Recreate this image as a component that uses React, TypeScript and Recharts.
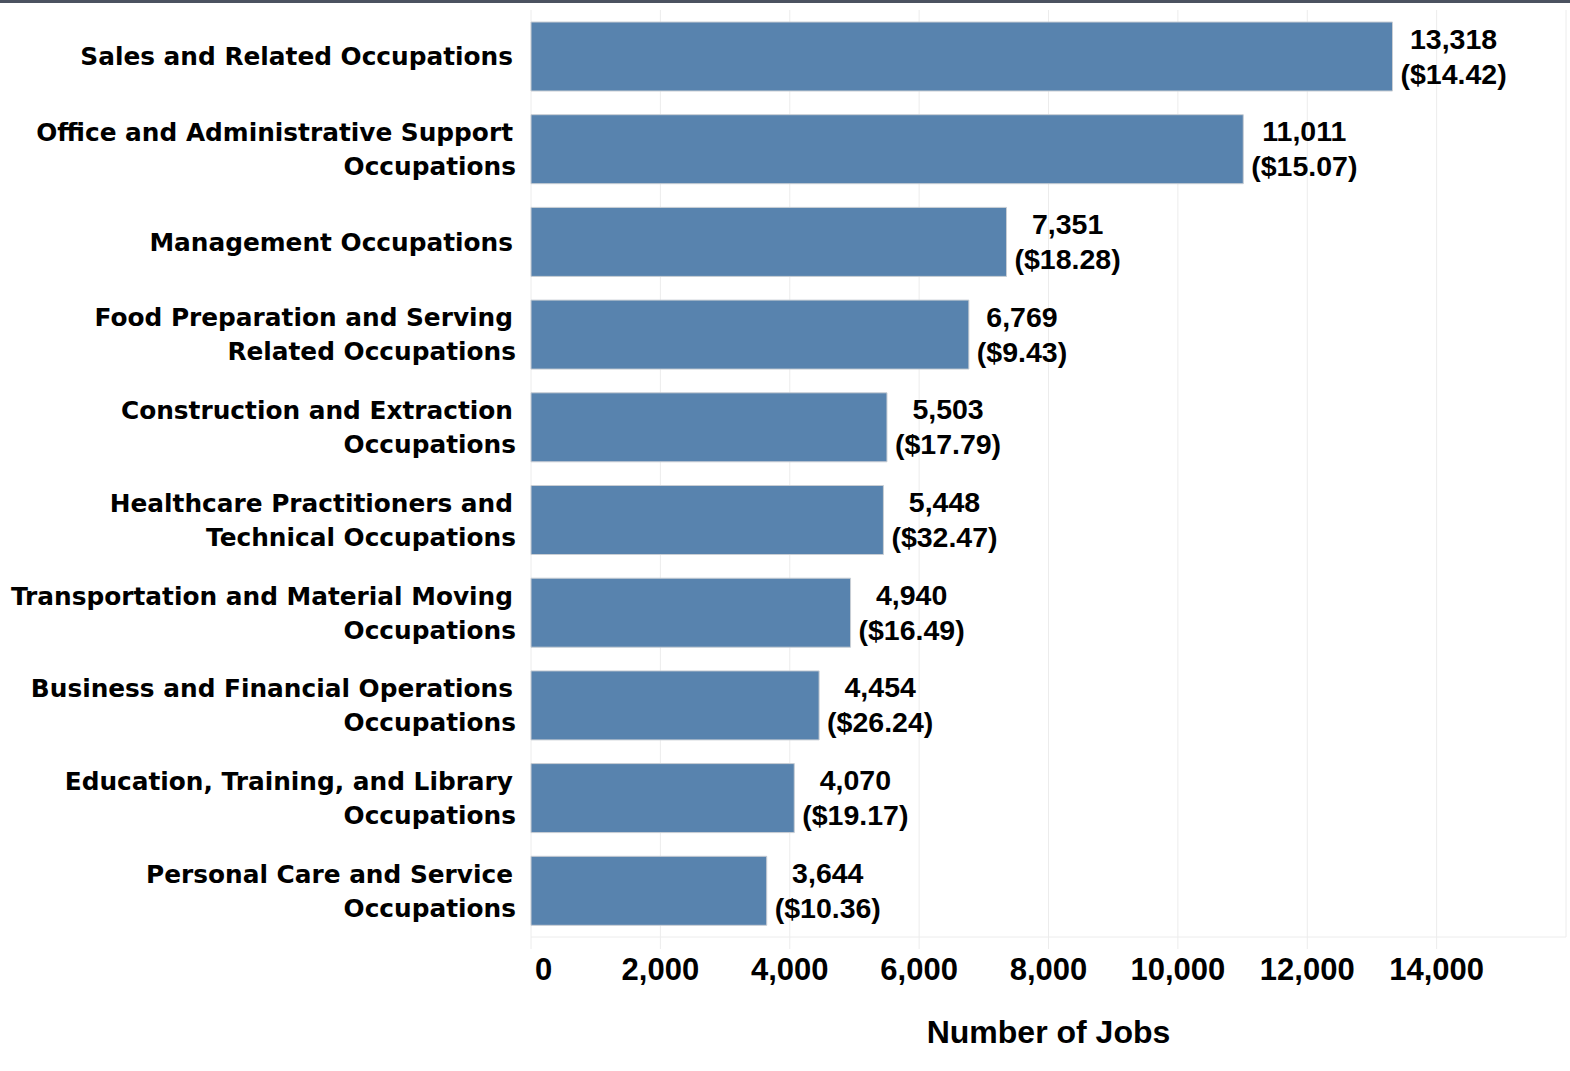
import { BarChart, Bar, XAxis, YAxis, CartesianGrid, LabelList } from 'recharts';

const CATEGORIES = [
  'Sales and Related Occupations',
  'Office and Administrative Support\nOccupations',
  'Management Occupations',
  'Food Preparation and Serving\nRelated Occupations',
  'Construction and Extraction\nOccupations',
  'Healthcare Practitioners and\nTechnical Occupations',
  'Transportation and Material Moving\nOccupations',
  'Business and Financial Operations\nOccupations',
  'Education, Training, and Library\nOccupations',
  'Personal Care and Service\nOccupations',
];
const JOBS = [13318, 11011, 7351, 6769, 5503, 5448, 4940, 4454, 4070, 3644];
const WAGES = [14.42, 15.07, 18.28, 9.43, 17.79, 32.47, 16.49, 26.24, 19.17, 10.36];
const X_TICKS = [0, 2000, 4000, 6000, 8000, 10000, 12000, 14000];

const BAR_COLOR = '#5883ae';
const GRID = '#ececec';
const ARIAL = '"Liberation Sans", Arial, sans-serif';
const TAHOMA = '"DejaVu Sans", Verdana, sans-serif';

const data = CATEGORIES.map((name, i) => ({ name, jobs: JOBS[i], wage: WAGES[i] }));

// rough Arial bold advance widths, used to centre the two label lines
function textWidth(s: string, size: number): number {
  let w = 0;
  for (const ch of s) {
    if (ch === '(' || ch === ')') w += 0.333;
    else if (ch === '.' || ch === ',') w += 0.278;
    else w += 0.556;
  }
  return w * size;
}

function CategoryTick(props: any) {
  const { x, y, payload } = props;
  const lines: string[] = String(payload.value).split('\n');
  const offsets = lines.length === 1 ? [0] : [-17, 17];
  return (
    <g>
      {lines.map((line, i) => (
        <text
          key={i}
          x={x + (lines.length > 1 && i === 1 ? 3 : 0)}
          y={y + offsets[i]}
          dy={9}
          textAnchor="end"
          fontFamily={TAHOMA}
          fontWeight="bold"
          fontSize={24.8}
          fill="#000"
        >
          {line}
        </text>
      ))}
    </g>
  );
}

function JobsTick(props: any) {
  const { x, y, payload } = props;
  const v = payload.value as number;
  return (
    <text
      x={v === 0 ? x + 4 : x}
      y={y}
      dy={29}
      textAnchor={v === 0 ? 'start' : 'middle'}
      fontFamily={ARIAL}
      fontWeight="bold"
      fontSize={31}
      fill="#000"
    >
      {v.toLocaleString('en-US')}
    </text>
  );
}

function ValueLabel(props: any) {
  const { x, y, width, height, index } = props;
  const row = data[index];
  const top = row.jobs.toLocaleString('en-US');
  const bottom = `($${row.wage.toFixed(2)})`;
  const size = 28.5;
  const w = Math.max(textWidth(top, size), textWidth(bottom, size));
  const cx = x + width + 8 + w / 2;
  const cy = y + height / 2;
  return (
    <g fontFamily={ARIAL} fontWeight="bold" fontSize={size} fill="#000" textAnchor="middle">
      <text x={cx} y={cy - 18} dy={10}>
        {top}
      </text>
      <text x={cx} y={cy + 17} dy={10}>
        {bottom}
      </text>
    </g>
  );
}

function AxisTitle(props: any) {
  const { viewBox } = props;
  return (
    <text
      x={viewBox.x + viewBox.width / 2}
      y={viewBox.y + 106}
      textAnchor="middle"
      fontFamily={ARIAL}
      fontWeight="bold"
      fontSize={32}
      fill="#000"
    >
      Number of Jobs
    </text>
  );
}

export default function App() {
  return (
    <div
      style={{
        position: 'absolute',
        left: 0,
        top: 0,
        width: 1570,
        height: 1071,
        background: '#fff',
        overflow: 'hidden',
      }}
    >
      <div style={{ position: 'absolute', left: 0, top: 0, width: 1570, height: 3, background: '#4b5260' }} />
      <BarChart
        width={1570}
        height={1071}
        data={data}
        layout="vertical"
        margin={{ top: 10, right: 4, bottom: 0, left: 1 }}
      >
        <CartesianGrid horizontal={false} stroke={GRID} />
        <XAxis
          type="number"
          domain={[0, 16000]}
          ticks={X_TICKS}
          height={134}
          axisLine={{ stroke: GRID }}
          tickLine={{ stroke: GRID }}
          tickSize={12}
          tick={<JobsTick />}
          label={<AxisTitle />}
        />
        <YAxis
          type="category"
          dataKey="name"
          width={530}
          axisLine={false}
          tickLine={false}
          tickSize={0}
          tickMargin={18}
          tick={<CategoryTick />}
        />
        <Bar dataKey="jobs" fill={BAR_COLOR} stroke="#c9ced4" strokeWidth={1} barSize={69} isAnimationActive={false}>
          <LabelList dataKey="jobs" content={<ValueLabel />} />
        </Bar>
      </BarChart>
    </div>
  );
}
